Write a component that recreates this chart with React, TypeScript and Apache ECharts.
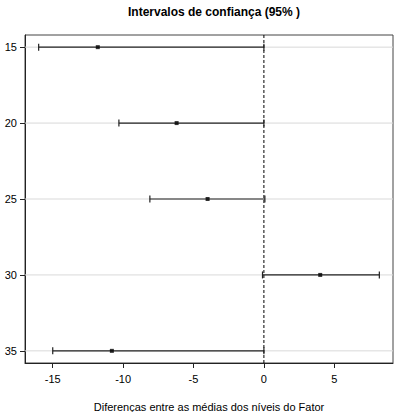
import React, { useEffect, useRef } from "react";
import * as echarts from "echarts";

const categories = [15, 20, 25, 30, 35];
const lower = [-16.0, -10.3, -8.1, -0.1, -15.0];
const estimate = [-11.8, -6.2, -4.0, 4.0, -10.8];
const upper = [0.0, 0.0, 0.07, 8.2, 0.0];
const xTicks = [-15, -10, -5, 0, 5];
const refLine = [0];
const titleText = "Intervalos de confiança (95% )";
const xName = "Diferenças entre as médias dos níveis do Fator";

export default function App() {
  const ref = useRef<HTMLDivElement>(null);
  useEffect(() => {
    const chart = echarts.init(ref.current!, null, { renderer: "svg" });
    const font = "Liberation Sans, Arial, sans-serif";
    const errData = categories.map((c, i) => [lower[i], upper[i], c]);
    const ptData = categories.map((c, i) => [estimate[i], c]);
    chart.setOption({
      animation: false,
      title: {
        text: titleText,
        left: 209,
        textAlign: "center",
        top: 1,
        textStyle: { fontFamily: font, fontSize: 12, fontWeight: "bold", color: "#000" },
      },
      grid: {
        left: 25,
        right: 1,
        top: 35,
        bottom: 49,
        containLabel: false,
        outerBoundsMode: "none",
        show: true,
        borderColor: "#444",
        borderWidth: 1,
        backgroundColor: "#fff",
      },
      xAxis: {
        type: "value",
        min: -16.97,
        max: 9.17,
        name: xName,
        nameLocation: "middle",
        nameGap: 38,
        nameTextStyle: { fontFamily: font, fontSize: 11, color: "#000" },
        axisLine: { show: true, onZero: false, lineStyle: { color: "#222" } },
        axisTick: { show: true, customValues: xTicks, length: 5, lineStyle: { color: "#222" } },
        axisLabel: { customValues: xTicks, fontFamily: font, fontSize: 11, color: "#000", margin: 10 },
        splitLine: { show: false },
      },
      yAxis: {
        type: "value",
        inverse: true,
        min: 14.2,
        max: 35.8,
        axisLine: { show: true, onZero: false, lineStyle: { color: "#222" } },
        axisTick: { show: true, customValues: categories, length: 5, lineStyle: { color: "#222" } },
        axisLabel: { customValues: categories, fontFamily: font, fontSize: 11, color: "#000", margin: 8 },
        splitLine: { show: false },
      },
      series: [
        {
          type: "custom",
          z: 1,
          data: categories.map((c) => [0, c]),
          renderItem: (params: any, api: any) => {
            const p = api.coord([0, api.value(1)]);
            const cs = params.coordSys;
            return {
              type: "line",
              shape: { x1: cs.x, y1: p[1], x2: cs.x + cs.width, y2: p[1] },
              style: { stroke: "#d9d9d9", lineWidth: 1 },
            };
          },
        },
        {
          type: "custom",
          z: 2,
          data: refLine.map((v) => [v, 0]),
          renderItem: (params: any, api: any) => {
            const cs = params.coordSys;
            const p = api.coord([api.value(0), 25]);
            return {
              type: "line",
              shape: { x1: p[0], y1: cs.y, x2: p[0], y2: cs.y + cs.height },
              style: { stroke: "#000", lineWidth: 1, lineDash: [3, 2] },
            };
          },
        },
        {
          type: "custom",
          z: 3,
          data: errData,
          renderItem: (params: any, api: any) => {
            const lo = api.coord([api.value(0), api.value(2)]);
            const hi = api.coord([api.value(1), api.value(2)]);
            const cap = 3.5;
            const style = { stroke: "#222", lineWidth: 1.2 };
            return {
              type: "group",
              children: [
                { type: "line", shape: { x1: lo[0], y1: lo[1], x2: hi[0], y2: hi[1] }, style },
                { type: "line", shape: { x1: lo[0], y1: lo[1] - cap, x2: lo[0], y2: lo[1] + cap }, style },
                { type: "line", shape: { x1: hi[0], y1: hi[1] - cap, x2: hi[0], y2: hi[1] + cap }, style },
              ],
            };
          },
        },
        {
          type: "scatter",
          z: 4,
          data: ptData,
          symbol: "rect",
          symbolSize: 4,
          itemStyle: { color: "#000" },
        },
      ],
    });
    return () => chart.dispose();
  }, []);
  return <div ref={ref} style={{ width: 394, height: 412, position: "absolute", left: 0, top: 0 }} />;
}
